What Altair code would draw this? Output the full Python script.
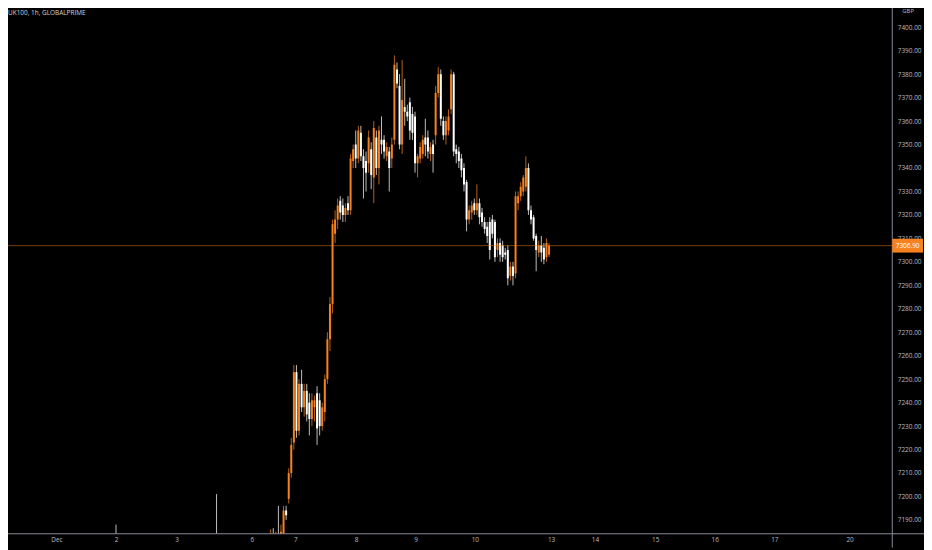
import altair as alt
import pandas as pd

# ---------------- data ----------------
candle_idx = [-60, -21] + list(range(0, 109))

opens = [7175, 7180,
         7180, 7182, 7180, 7181, 7179, 7184, 7194, 7199, 7210, 7223,
         7253, 7228, 7248, 7238, 7245, 7240, 7233, 7238, 7244, 7241,
         7230, 7236, 7250, 7267, 7282, 7312, 7318, 7326, 7324, 7320,
         7325, 7322, 7343, 7350, 7344, 7355, 7345, 7343, 7342, 7348,
         7336, 7353, 7340, 7352, 7352, 7345, 7347, 7344, 7352, 7382,
         7375, 7350, 7366, 7364, 7368, 7363, 7362, 7342, 7344, 7346,
         7353, 7353, 7346, 7350, 7354, 7372, 7380, 7360, 7354, 7356,
         7365, 7380, 7348, 7347, 7344, 7340, 7334, 7318, 7321, 7325,
         7322, 7325, 7321, 7317, 7315, 7317, 7318, 7317, 7305, 7308,
         7307, 7304, 7305, 7294, 7298, 7295, 7325, 7328, 7330, 7332,
         7340, 7322, 7319, 7311, 7304, 7307, 7306, 7302, 7303]
highs = [7188, 7201,
         7186, 7186.5, 7185, 7196, 7188, 7196, 7196, 7212, 7225, 7256,
         7256, 7250, 7254, 7248, 7248, 7244, 7244, 7243, 7247, 7244,
         7240, 7252, 7270, 7285, 7318, 7322, 7327, 7328, 7327, 7325,
         7328, 7346, 7350, 7356, 7358, 7358, 7348, 7347, 7356, 7351,
         7360, 7356, 7358, 7362, 7354, 7351, 7349, 7353, 7388, 7385,
         7380, 7386, 7378, 7367, 7370, 7366, 7364, 7346, 7351, 7354,
         7361, 7356, 7351, 7352, 7375, 7383, 7382, 7362, 7362, 7365,
         7382, 7381, 7350, 7349, 7346, 7342, 7335, 7324, 7326, 7327,
         7333, 7327, 7323, 7319, 7317, 7319, 7320, 7318, 7310, 7310,
         7309, 7306, 7307, 7300, 7300, 7330, 7330, 7334, 7337, 7345,
         7342, 7324, 7320, 7312, 7309, 7311, 7308, 7310, 7308]
lows = [7160, 7170,
        7175, 7178, 7176, 7172, 7175, 7182, 7190, 7197, 7208, 7220,
        7225, 7226, 7236, 7234, 7232, 7226, 7230, 7232, 7222, 7226,
        7228, 7232, 7248, 7262, 7278, 7308, 7314, 7318, 7317, 7317,
        7320, 7320, 7340, 7340, 7342, 7343, 7327, 7330, 7338, 7331,
        7325, 7337, 7333, 7346, 7344, 7343, 7330, 7340, 7350, 7374,
        7348, 7346, 7358, 7360, 7352, 7352, 7338, 7336, 7342, 7344,
        7345, 7344, 7343, 7338, 7350, 7370, 7358, 7352, 7350, 7354,
        7363, 7345, 7342, 7340, 7336, 7330, 7313, 7316, 7318, 7320,
        7320, 7316, 7315, 7312, 7308, 7301, 7310, 7300, 7302, 7300,
        7300, 7301, 7290, 7292, 7290, 7293, 7322, 7326, 7328, 7330,
        7320, 7316, 7309, 7296, 7302, 7300, 7299, 7300, 7302]
closes = [7170, 7176,
          7182, 7180, 7181, 7179, 7185, 7194, 7192, 7210, 7222, 7253,
          7228, 7248, 7238, 7245, 7235, 7233, 7241, 7241, 7229, 7230,
          7238, 7250, 7267, 7282, 7316, 7318, 7324, 7321, 7320, 7323,
          7322, 7344, 7348, 7344, 7356, 7345, 7340, 7338, 7353, 7337,
          7357, 7340, 7356, 7350, 7347, 7349, 7340, 7350, 7384, 7376,
          7350, 7369, 7364, 7362, 7356, 7355, 7342, 7345, 7349, 7352,
          7350, 7347, 7349, 7346, 7372, 7380, 7361, 7354, 7360, 7362,
          7380, 7347, 7346, 7343, 7339, 7333, 7318, 7322, 7324, 7322,
          7325, 7319, 7317, 7314, 7311, 7305, 7312, 7302, 7308, 7303,
          7302, 7303, 7293, 7298, 7294, 7328, 7328, 7332, 7336, 7340,
          7322, 7318, 7310, 7305, 7307, 7304, 7301, 7308, 7306.9]

last_price = 7306.9
last_price_label = "7306.90"

x_tick_pos = [-83.1, -60.0, -36.5, -7.3, 9.6, 33.1, 56.2, 79.2,
              108.8, 125.8, 149.2, 172.3, 195.4, 224.6]
x_tick_labels = ["Dec", "2", "3", "6", "7", "8", "9", "10",
                 "13", "14", "15", "16", "17", "20"]
y_ticks = [7190, 7200, 7210, 7220, 7230, 7240, 7250, 7260, 7270, 7280,
           7290, 7300, 7310, 7320, 7330, 7340, 7350, 7360, 7370, 7380,
           7390, 7400]

symbol_title = "UK100, 1h, GLOBALPRIME"
currency = "GBP"

# ---------------- styling ----------------
ORANGE = "#f5821f"
WHITE = "#ffffff"
TXT = "#b8bbc2"
LINE = "#8a8d96"
FONT = "Open Sans"
W, H = 892, 528

df = pd.DataFrame({"k": candle_idx, "o": opens, "h": highs, "l": lows, "c": closes})
df["dir"] = ["up" if c >= o else "down" for o, c in zip(df["o"], df["c"])]

label_expr = ("[" + ",".join("'%s'" % s for s in x_tick_labels) + "][indexof(["
              + ",".join(str(v) for v in x_tick_pos) + "], datum.value)]")

xs = alt.Scale(domain=[-101.9, 241.15], nice=False, zero=False)
ys = alt.Scale(domain=[7184.1, 7407.2], nice=False, zero=False)

x_axis = alt.Axis(values=x_tick_pos, labelExpr=label_expr, title=None,
                  grid=False, domain=False, ticks=False,
                  labelColor=TXT, labelFontSize=6.5, labelFont=FONT,
                  labelPadding=3, labelFlush=False, labelOverlap=False)
y_axis = alt.Axis(orient="right", values=y_ticks, format=".2f", title=None,
                  grid=False, domain=False, ticks=False,
                  labelColor=TXT, labelFontSize=6.5, labelFont=FONT,
                  labelPadding=5, labelAlign="left", labelOverlap=False,
                  labelBound=False)
color_enc = alt.Color("dir:N", scale=alt.Scale(domain=["up", "down"], range=[ORANGE, WHITE]),
                      legend=None)

base = alt.Chart(df)

wicks = base.mark_rule(strokeWidth=1, clip=True, opacity=0.75).encode(
    x=alt.X("k:Q", scale=xs, axis=x_axis),
    y=alt.Y("l:Q", scale=ys, axis=y_axis),
    y2="h:Q",
    color=color_enc,
)

bodies = base.mark_rule(strokeWidth=2, clip=True).encode(
    x=alt.X("k:Q", scale=xs, axis=x_axis),
    y=alt.Y("o:Q", scale=ys, axis=y_axis),
    y2="c:Q",
    color=color_enc,
)

pdf = pd.DataFrame({"p": [last_price], "lab": [last_price_label]})
price_line = alt.Chart(pdf).mark_rule(color=ORANGE, strokeWidth=0.7, opacity=0.7).encode(
    y=alt.Y("p:Q", scale=ys, axis=y_axis)
)

pdf2 = pd.DataFrame({"p1": [last_price + 2.95], "p2": [last_price - 2.95], "p": [last_price],
                     "lab": [last_price_label]})
price_box = alt.Chart(pdf2).mark_rect(color=ORANGE, clip=False).encode(
    x=alt.value(W), x2=alt.value(W + 31),
    y=alt.Y("p1:Q", scale=ys, axis=y_axis), y2="p2:Q",
)
price_text = alt.Chart(pdf2).mark_text(color=WHITE, fontSize=6.5, font=FONT, align="center",
                                       baseline="middle", clip=False).encode(
    x=alt.value(W + 15.5), y=alt.Y("p:Q", scale=ys, axis=y_axis), text="lab:N"
)

tdf = pd.DataFrame({"t": [symbol_title]})
title_txt = alt.Chart(tdf).mark_text(color="#d1d4dc", fontSize=6.5, font=FONT, align="left",
                                     baseline="middle").encode(
    x=alt.value(0), y=alt.value(3), text="t:N"
)

gdf = pd.DataFrame({"t": [currency]})
gbp_txt = alt.Chart(gdf).mark_text(color=TXT, fontSize=6, font=FONT, align="center",
                                   baseline="middle", clip=False).encode(
    x=alt.value(W + 16), y=alt.value(1), text="t:N"
)

hline = alt.Chart(tdf).mark_rule(color=LINE, strokeWidth=1, clip=False).encode(
    x=alt.value(-8), x2=alt.value(W + 32), y=alt.value(H)
)
vline = alt.Chart(tdf).mark_rule(color=LINE, strokeWidth=1, clip=False).encode(
    x=alt.value(W), y=alt.value(-8), y2=alt.value(H + 14)
)

chart = alt.layer(
    wicks, bodies, price_line, hline, vline, price_box, price_text, title_txt, gbp_txt
).properties(
    width=W, height=H,
    padding={"left": 0, "top": 0, "right": 32, "bottom": 14},
    autosize=alt.AutoSizeParams(type="none"),
    background="#000000",
).configure_view(stroke=None)

chart.save("out.html", embed_options={"renderer": "svg", "actions": False})
